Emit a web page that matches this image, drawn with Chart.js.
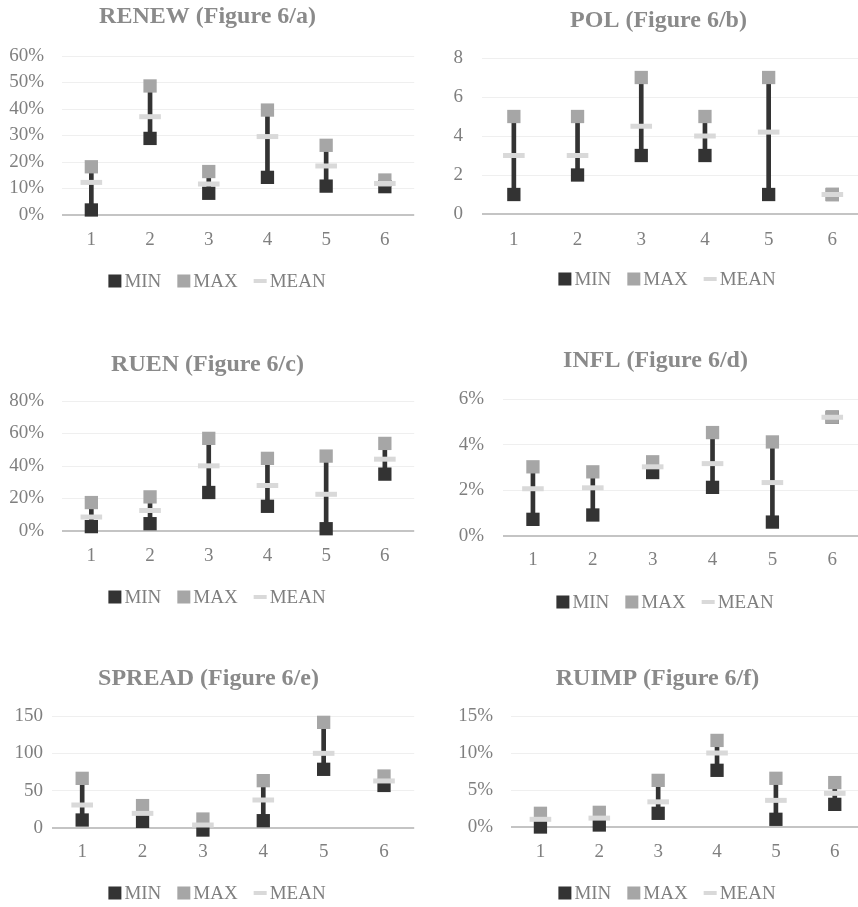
<!DOCTYPE html>
<html>
<head>
<meta charset="utf-8">
<title>Min / Max / Mean by cluster</title>
<script src="https://cdn.jsdelivr.net/npm/chart.js@4/dist/chart.umd.min.js"></script>
<style>
  html, body { margin: 0; padding: 0; background: #ffffff; }
  body { position: relative; width: 858px; height: 907px; overflow: hidden; }
  canvas { position: absolute; display: block; }
</style>
</head>
<body>
<script>
// Cluster numbers on the horizontal axis
const categories = ['1', '2', '3', '4', '5', '6'];

// RENEW (%)
const renewMin  = [1.9, 28.9, 8.2, 14.2, 10.9, 10.7];
const renewMax  = [18.2, 48.7, 16.4, 39.6, 26.3, 13.2];
const renewMean = [12.3, 37.1, 11.7, 29.6, 18.5, 11.9];

// POL
const polMin  = [1, 2, 3, 3, 1, 1];
const polMax  = [5, 5, 7, 5, 7, 1];
const polMean = [3, 3, 4.5, 4, 4.2, 1];

// RUEN (%)
const ruenMin  = [2.7, 4.5, 23.7, 15.2, 1.4, 35.0];
const ruenMax  = [17.5, 21.0, 57.0, 44.7, 46.1, 53.9];
const ruenMean = [8.6, 12.6, 40.1, 28.0, 22.6, 44.2];

// INFL (%)
const inflMin  = [0.73, 0.92, 2.78, 2.13, 0.61, 5.2];
const inflMax  = [3.03, 2.81, 3.25, 4.53, 4.12, 5.2];
const inflMean = [2.07, 2.11, 3.03, 3.17, 2.34, 5.2];

// SPREAD
const spreadMin  = [10.7, 8.9, -2.7, 9.8, 78.6, 57.0];
const spreadMax  = [66.5, 30.0, 12.0, 63.4, 141.5, 69.6];
const spreadMean = [30.8, 19.6, 4.0, 37.5, 100.0, 63.0];

// RUIMP (%)
const ruimpMin  = [0.0, 0.27, 1.85, 7.66, 1.04, 3.06];
const ruimpMax  = [1.85, 1.98, 6.3, 11.7, 6.58, 6.0];
const ruimpMean = [1.04, 1.2, 3.4, 10.0, 3.6, 4.55];

// Series names, in legend order
const seriesNames = ['MIN', 'MAX', 'MEAN'];

const COLOR_MIN = '#333333';
const COLOR_MAX = '#a6a6a6';
const COLOR_MEAN = '#d9d9d9';
const TEXT = '#7f7f7f';
const TITLE = '#8a8a8a';
const SERIF = '"Liberation Serif", "Times New Roman", serif';

// Legend drawn under each plot: square swatches for MIN/MAX, a dash for MEAN
const seriesKey = {
  id: 'seriesKey',
  afterDraw(chart, args, opts) {
    const ctx = chart.ctx;
    const items = chart.data.datasets
      .filter(d => d.type === 'line')
      .sort((a, b) => seriesNames.indexOf(a.label) - seriesNames.indexOf(b.label));
    ctx.save();
    ctx.font = '19px ' + SERIF;
    const box = 13, gap = 3, spacing = 16;
    const widths = items.map(d => box + gap + ctx.measureText(d.label).width);
    const total = widths.reduce((a, b) => a + b, 0) + spacing * (items.length - 1);
    let x = chart.width / 2 + 2 - total / 2;
    const y = chart.chartArea.bottom + opts.offset;
    items.forEach((d, i) => {
      if (d.pointStyle === 'rect') {
        ctx.fillStyle = d.pointBackgroundColor;
        ctx.fillRect(x, y - box / 2, box, box);
      } else {
        ctx.fillStyle = d.pointBorderColor;
        ctx.fillRect(x, y - 2, box, 4);
      }
      ctx.fillStyle = TEXT;
      ctx.textAlign = 'left';
      ctx.textBaseline = 'middle';
      ctx.fillText(d.label, x + box + gap, y + 1);
      x += widths[i] + spacing;
    });
    ctx.restore();
  }
};

const panels = [
  { title: 'RENEW (Figure 6/a)', min: renewMin, max: renewMax, mean: renewMean, yMax: 60, yStep: 10, pct: true,
    x: 0, w: 430, titleY: 17, top: 56, bottom: 215, left: 62, right: 415, tickY: 240, legendY: 281, yPad: 18 },
  { title: 'POL (Figure 6/b)', min: polMin, max: polMax, mean: polMean, yMax: 8, yStep: 2, pct: false,
    x: 450, w: 430, titleY: 21, top: 58, bottom: 214, left: 482, right: 867, tickY: 240, legendY: 279, yPad: 19 },
  { title: 'RUEN (Figure 6/c)', min: ruenMin, max: ruenMax, mean: ruenMean, yMax: 80, yStep: 20, pct: true,
    x: 0, w: 430, titleY: 365, top: 401, bottom: 531, left: 62, right: 415, tickY: 556, legendY: 597, yPad: 18 },
  { title: 'INFL (Figure 6/d)', min: inflMin, max: inflMax, mean: inflMean, yMax: 6, yStep: 2, pct: true,
    x: 448, w: 430, titleY: 361, top: 399, bottom: 536, left: 503, right: 863, tickY: 560, legendY: 602, yPad: 19 },
  { title: 'SPREAD (Figure 6/e)', min: spreadMin, max: spreadMax, mean: spreadMean, yMax: 150, yStep: 50, pct: false,
    x: 0, w: 430, titleY: 679, top: 716, bottom: 828, left: 52, right: 417, tickY: 852, legendY: 893, yPad: 9 },
  { title: 'RUIMP (Figure 6/f)', min: ruimpMin, max: ruimpMax, mean: ruimpMean, yMax: 15, yStep: 5, pct: true,
    x: 450, w: 430, titleY: 679, top: 716, bottom: 827, left: 511, right: 865, tickY: 852, legendY: 893, yPad: 18 }
];

const TITLE_SIZE = 24, TITLE_LH = TITLE_SIZE * 1.2;
const TICK_SIZE = 19, TICK_LH = TICK_SIZE * 1.2;
const X_AXIS_H = 40;

panels.forEach(p => {
  const canvasTop = p.titleY - 17;
  const canvasH = p.legendY + 16 - canvasTop;
  const canvas = document.createElement('canvas');
  canvas.width = p.w;
  canvas.height = canvasH;
  canvas.style.left = p.x + 'px';
  canvas.style.top = canvasTop + 'px';
  canvas.style.width = p.w + 'px';
  canvas.style.height = canvasH + 'px';
  document.body.appendChild(canvas);

  const titlePadTop = p.titleY - canvasTop - TITLE_LH / 2;
  const titlePadBottom = p.top - p.titleY - TITLE_LH / 2;

  new Chart(canvas, {
    type: 'bar',
    data: {
      labels: categories,
      datasets: [
        { type: 'line', label: seriesNames[2], data: p.mean, showLine: false, order: 0, clip: false,
          pointStyle: 'line', pointRadius: 10.8, pointHoverRadius: 10.8,
          pointBorderWidth: 5, pointBorderColor: COLOR_MEAN, pointBackgroundColor: COLOR_MEAN, borderColor: COLOR_MEAN },
        { type: 'line', label: seriesNames[1], data: p.max, showLine: false, order: 1, clip: false,
          pointStyle: 'rect', pointRadius: 9.4, pointHoverRadius: 9.4,
          pointBorderWidth: 0, pointBackgroundColor: COLOR_MAX, borderColor: COLOR_MAX },
        { type: 'line', label: seriesNames[0], data: p.min, showLine: false, order: 2, clip: false,
          pointStyle: 'rect', pointRadius: 9.4, pointHoverRadius: 9.4,
          pointBorderWidth: 0, pointBackgroundColor: COLOR_MIN, borderColor: COLOR_MIN },
        // high-low line joining MIN and MAX in each cluster
        { type: 'bar', label: 'range', data: p.min.map((v, i) => [v, p.max[i]]), order: 3, clip: false,
          backgroundColor: COLOR_MIN, borderWidth: 0, barThickness: 4 }
      ]
    },
    options: {
      responsive: false,
      maintainAspectRatio: false,
      devicePixelRatio: 1,
      animation: false,
      events: [],
      layout: { padding: { left: 0, top: 0, right: p.x + p.w - p.right, bottom: canvasTop + canvasH - p.bottom - X_AXIS_H } },
      plugins: {
        legend: { display: false },
        tooltip: { enabled: false },
        title: {
          display: true, text: p.title, color: TITLE,
          font: { family: SERIF, size: TITLE_SIZE, weight: 'bold', lineHeight: 1.2 },
          padding: { top: titlePadTop, bottom: titlePadBottom }
        },
        seriesKey: { offset: p.legendY - p.bottom }
      },
      scales: {
        x: {
          grid: { display: false, drawTicks: false },
          border: { display: false },
          ticks: { color: TEXT, font: { family: SERIF, size: TICK_SIZE, lineHeight: 1.2 }, padding: p.tickY - p.bottom - TICK_LH / 2 },
          afterFit(scale) { scale.height = X_AXIS_H; }
        },
        y: {
          min: 0, max: p.yMax,
          grid: {
            drawTicks: false,
            color: c => (c.tick && c.tick.value === 0 ? '#c4c4c4' : '#efefef'),
            lineWidth: c => (c.tick && c.tick.value === 0 ? 2 : 1)
          },
          border: { display: false },
          ticks: {
            stepSize: p.yStep, color: TEXT, padding: p.yPad,
            font: { family: SERIF, size: TICK_SIZE, lineHeight: 1.2 },
            callback: v => (p.pct ? v + '%' : String(v))
          },
          afterFit(scale) { scale.width = p.left - p.x; }
        }
      }
    },
    plugins: [seriesKey]
  });
});
</script>
</body>
</html>
